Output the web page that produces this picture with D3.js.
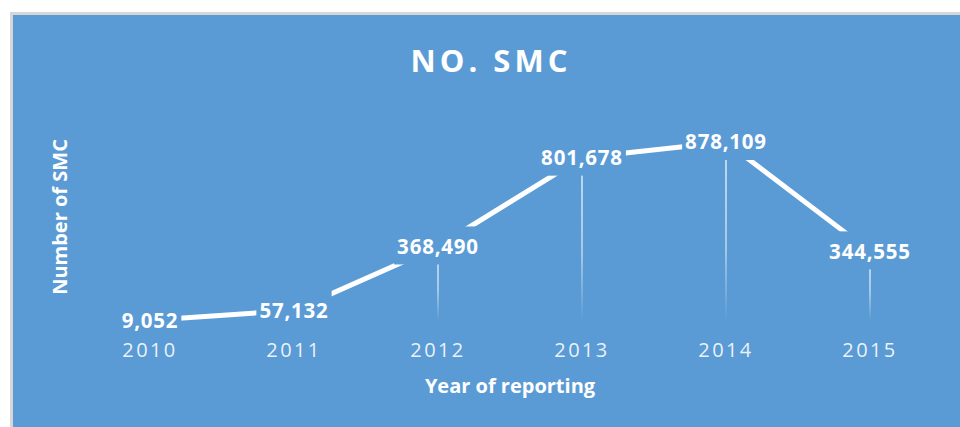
<!DOCTYPE html>
<html>
<head>
<meta charset="utf-8">
<script src="https://cdn.jsdelivr.net/npm/d3@7"></script>
<style>
  html, body { margin: 0; padding: 0; background: #fff; }
  svg { display: block; }
</style>
</head>
<body>
<svg width="960" height="427"></svg>
<script>
// data
var years = ["2010", "2011", "2012", "2013", "2014", "2015"];
var counts = [9052, 57132, 368490, 801678, 878109, 344555];

var title = "NO. SMC";
var xTitle = "Year of reporting";
var yTitle = "Number of SMC";

var svg = d3.select("svg"),
  width = +svg.attr("width"),
  height = +svg.attr("height");

var bg = "#5b9bd5";
var font = "'Open Sans', 'DejaVu Sans', sans-serif";

// chart area (runs off the right and bottom of the picture)
svg.append("rect")
  .attr("x", 11.5).attr("y", 13.5)
  .attr("width", 970).attr("height", 440)
  .attr("fill", bg)
  .attr("stroke", "#d6d6d6")
  .attr("stroke-width", 3);

var plot = { left: 78, right: 942, top: 117, bottom: 322 };

var x = d3.scaleBand()
  .domain(years)
  .range([plot.left, plot.right]);

var y = d3.scaleLinear()
  .domain([0, 1000000])
  .range([plot.bottom, plot.top]);

var cx = function(d, i) { return x(years[i]) + x.bandwidth() / 2; };

var data = counts.map(function(v, i) { return { year: years[i], value: v }; });

// fading drop lines
var defs = svg.append("defs");
var grad = defs.append("linearGradient")
  .attr("id", "dropfade")
  .attr("x1", 0).attr("y1", 0).attr("x2", 0).attr("y2", 1);
grad.append("stop").attr("offset", "0").attr("stop-color", "#fff").attr("stop-opacity", 0.85);
grad.append("stop").attr("offset", "0.6").attr("stop-color", "#fff").attr("stop-opacity", 0.6);
grad.append("stop").attr("offset", "1").attr("stop-color", "#fff").attr("stop-opacity", 0);

svg.append("g")
  .selectAll("rect")
  .data(data)
  .enter().append("rect")
  .attr("x", function(d, i) { return cx(d, i) - 0.75; })
  .attr("y", function(d) { return y(d.value); })
  .attr("width", 1.5)
  .attr("height", function(d) { return y(0) - y(d.value) - 2; })
  .attr("fill", "url(#dropfade)");

// the series line
var line = d3.line()
  .x(function(d, i) { return cx(d, i); })
  .y(function(d) { return y(d.value); });

svg.append("path")
  .datum(data)
  .attr("d", line)
  .attr("fill", "none")
  .attr("stroke", "#fff")
  .attr("stroke-width", 5);

// data labels with a filled box that hides the line
var labels = svg.append("g")
  .selectAll("g")
  .data(data)
  .enter().append("g")
  .attr("transform", function(d, i) { return "translate(" + cx(d, i) + "," + y(d.value) + ")"; });

var fmt = d3.format(",");

labels.append("text")
  .attr("text-anchor", "middle")
  .attr("dy", "0.36em")
  .attr("fill", "#fff")
  .style("font-family", font)
  .style("font-weight", "bold")
  .style("font-size", "20.5px")
  .style("letter-spacing", "0.8px")
  .text(function(d) { return fmt(d.value); });

labels.each(function() {
  var g = d3.select(this);
  var bb = g.select("text").node().getBBox();
  g.insert("rect", "text")
    .attr("x", bb.x - 3)
    .attr("y", -20)
    .attr("width", bb.width + 6)
    .attr("height", 38)
    .attr("fill", bg);
});

// x axis tick labels
svg.append("g")
  .selectAll("text")
  .data(years)
  .enter().append("text")
  .attr("x", function(d) { return x(d) + x.bandwidth() / 2; })
  .attr("y", 357)
  .attr("text-anchor", "middle")
  .attr("fill", "rgba(255,255,255,0.88)")
  .style("font-family", font)
  .style("font-size", "20px")
  .style("letter-spacing", "2.4px")
  .text(function(d) { return d; });

// titles
svg.append("text")
  .attr("x", 491)
  .attr("y", 72)
  .attr("text-anchor", "middle")
  .attr("fill", "#fff")
  .style("font-family", font)
  .style("font-weight", "bold")
  .style("font-size", "31px")
  .style("letter-spacing", "4px")
  .text(title);

svg.append("text")
  .attr("x", (plot.left + plot.right) / 2)
  .attr("y", 393)
  .attr("text-anchor", "middle")
  .attr("fill", "#fff")
  .style("font-family", font)
  .style("font-weight", "bold")
  .style("font-size", "20px")
  .text(xTitle);

svg.append("text")
  .attr("transform", "translate(67," + 217 + ") rotate(-90)")
  .attr("text-anchor", "middle")
  .attr("fill", "#fff")
  .style("font-family", font)
  .style("font-weight", "bold")
  .style("font-size", "20px")
  .text(yTitle);
</script>
</body>
</html>
